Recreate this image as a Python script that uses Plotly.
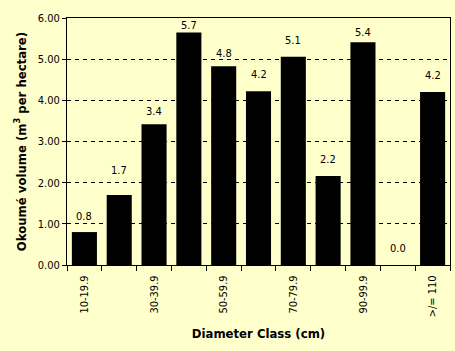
import plotly.graph_objects as go

categories = ["10-19.9", "20-29.9", "30-39.9", "40-49.9", "50-59.9", "60-69.9",
              "70-79.9", "80-89.9", "90-99.9", "100-109.9", ">/= 110"]
volumes = [0.80, 1.70, 3.42, 5.65, 4.83, 4.22, 5.06, 2.16, 5.41, 0.0, 4.20]
shown_labels = ["10-19.9", " ", "30-39.9", " ", "50-59.9", " ", "70-79.9", " ", "90-99.9", " ", ">/= 110"]
y_ticks = [0, 1, 2, 3, 4, 5, 6]
label_offsets = [16, 25, 13, 7, 13, 17, 16, 17, 10, 17, 17]  # style: px above bar top

FONT = "DejaVu Sans Condensed, Liberation Sans Narrow, Arial Narrow, sans-serif"
BG = "#FFFFCC"

fig = go.Figure()
fig.add_trace(go.Bar(x=categories, y=volumes, marker=dict(color="black", line=dict(width=0)),
                     width=0.72, showlegend=False))

for c, v, off in zip(categories, volumes, label_offsets):
    fig.add_annotation(x=c, y=v, text=f"{v:.1f}", showarrow=False, yshift=off,
                       font=dict(family=FONT, size=11, color="black"))

fig.update_layout(
    width=455, height=351,
    margin=dict(l=67, r=5, t=18, b=86),
    paper_bgcolor=BG, plot_bgcolor=BG,
    font=dict(family=FONT, size=11, color="black"),
    xaxis=dict(
        type="category", categoryorder="array", categoryarray=categories,
        tickvals=categories, ticktext=shown_labels, tickangle=-90,
        tickson="boundaries", ticks="outside", ticklen=5, tickcolor="black",
        ticklabelstandoff=5,
        showline=True, linecolor="black", linewidth=1, mirror=True,
        showgrid=False, range=[-0.5, 10.5],
        title=dict(text="<b>Diameter Class (cm)</b>", font=dict(size=13), standoff=12),
    ),
    yaxis=dict(
        range=[0, 6], tickvals=y_ticks, tickformat=".2f",
        ticks="outside", ticklen=4, tickcolor="black",
        showline=True, linecolor="black", linewidth=1, mirror=True,
        showgrid=True, gridcolor="black", gridwidth=1, griddash="4px,4px",
        zeroline=False,
        title=dict(text="<b>Okoumé volume (m<sup>3</sup> per hectare)</b>", font=dict(size=13), standoff=8),
    ),
)

fig.write_html("out.html")
